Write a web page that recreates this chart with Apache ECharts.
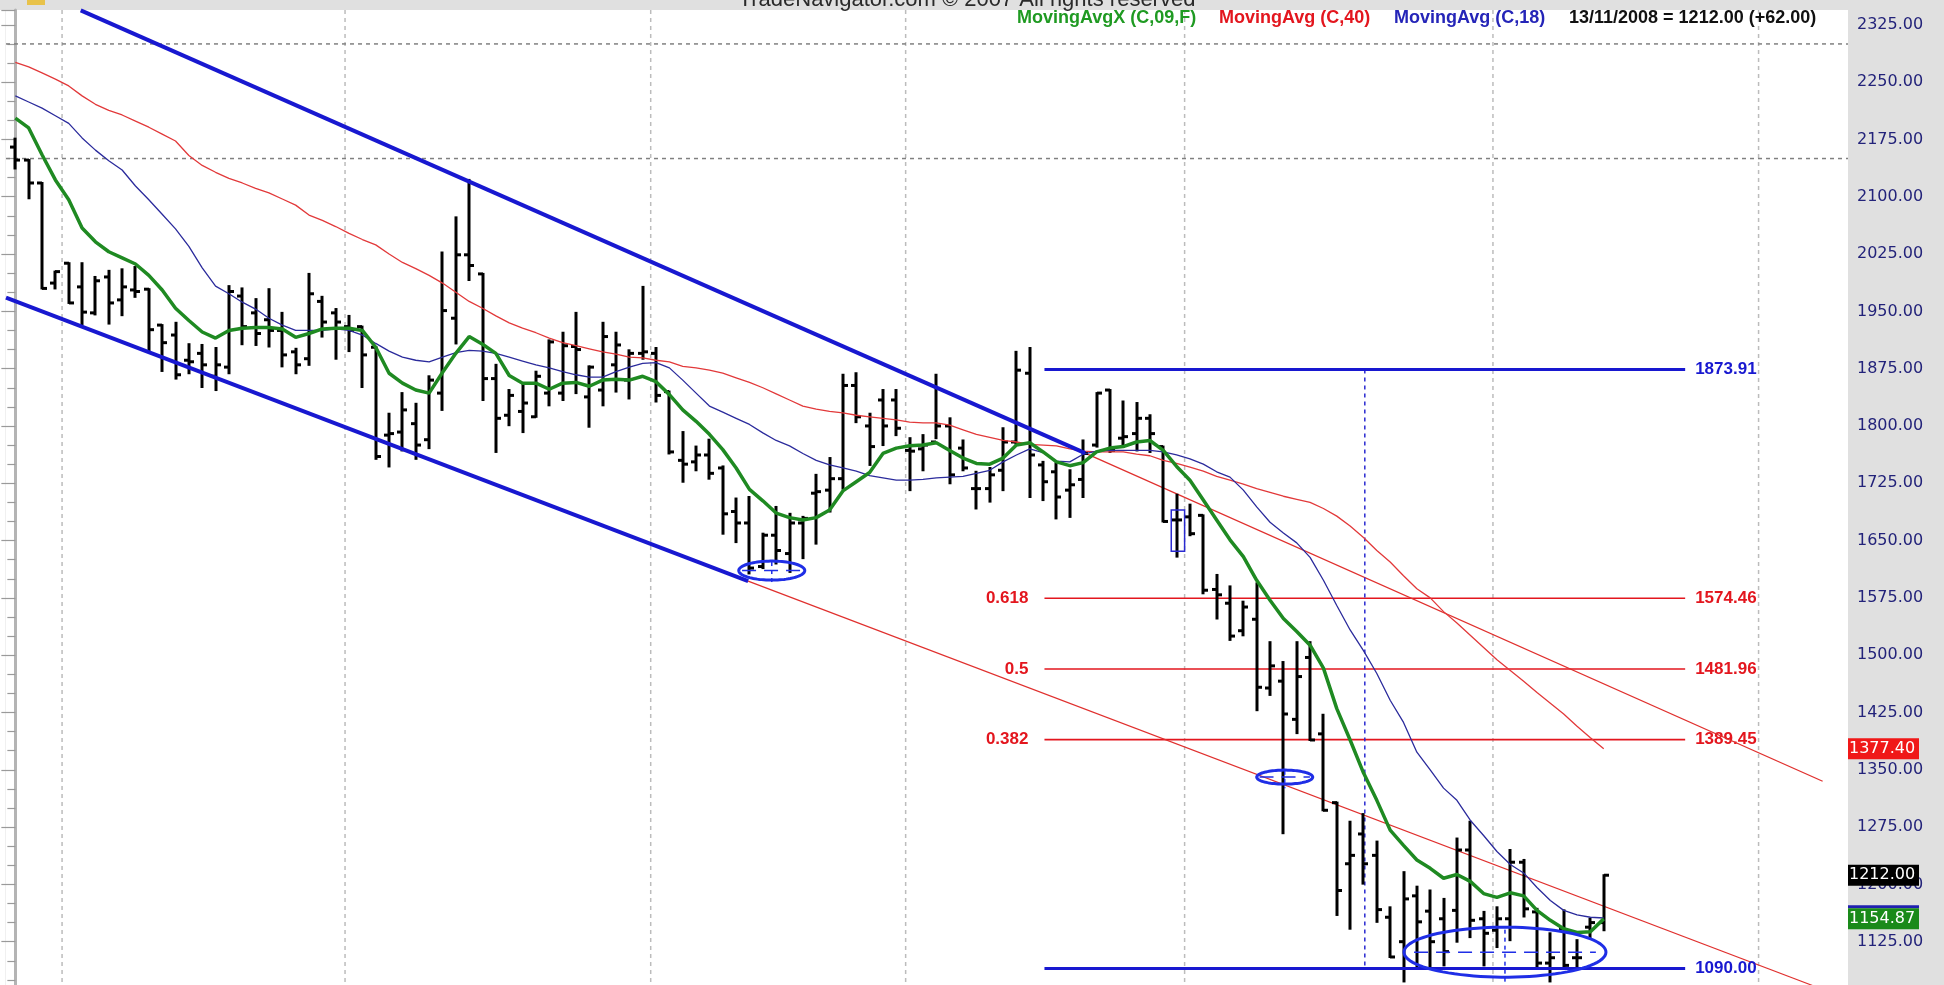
<!DOCTYPE html>
<html><head><meta charset="utf-8">
<script src="https://cdn.jsdelivr.net/npm/echarts@6/dist/echarts.min.js"></script>
<style>html,body{margin:0;padding:0;background:#fff;overflow:hidden}#chart{width:1944px;height:1000px}</style>
</head><body><div id="chart"></div>
<script>
// ---- Daily OHLC bars (index 0 = first bar on the left) ----
const opens = [2165,2148,2118,1987,2013,1982,1948,1995,1965,1978,
1979,1932,1919,1886,1895,1865,1877,1970,1948,1939,
1925,1897,1888,1963,1948,1930,1930,1903,1788,1792,
1803,1782,1843,1941,2024,1999,1862,1814,1819,1812,
1843,1843,1904,1838,1847,1880,1860,1895,1895,1845,
1755,1753,1762,1745,1688,1673,1616,1657,1633,1673,
1712,1716,1731,1853,1800,1834,1834,1768,1770,1779,
1800,1771,1718,1718,1742,1779,1869,1749,1740,1716,
1730,1775,1847,1784,1790,1810,1773,1677,1681,1683,
1586,1568,1532,1547,1457,1466,1416,1497,1397,1307,
1227,1266,1238,1157,1125,1185,1165,1155,1166,1245,
1155,1140,1155,1229,1164,1097,1142,1104,1144,1150];
const highs = [2176,2148,2118,2002,2013,2013,1995,2003,2005,2008,
1979,1932,1935,1907,1906,1902,1983,1980,1966,1979,
1948,1901,1999,1969,1953,1944,1930,1903,1816,1843,
1829,1865,2027,2073,2122,1999,1880,1847,1856,1871,
1912,1922,1948,1878,1935,1922,1899,1982,1902,1845,
1792,1773,1782,1747,1705,1707,1659,1694,1685,1681,
1736,1758,1867,1869,1816,1847,1847,1784,1788,1867,
1810,1781,1740,1745,1797,1897,1902,1753,1751,1742,
1781,1843,1847,1832,1830,1814,1773,1710,1697,1683,
1605,1590,1570,1594,1517,1491,1517,1517,1422,1307,
1282,1292,1256,1170,1216,1197,1192,1181,1260,1282,
1164,1170,1245,1232,1168,1136,1166,1127,1155,1212];
const lows = [2137,2098,1980,1980,1961,1933,1946,1934,1945,1969,
1899,1872,1862,1869,1851,1847,1869,1907,1906,1904,
1878,1869,1880,1917,1888,1898,1851,1757,1747,1768,
1757,1771,1821,1908,1991,1834,1766,1801,1792,1812,
1827,1834,1843,1799,1827,1845,1836,1888,1832,1764,
1727,1742,1731,1659,1648,1607,1614,1620,1609,1627,
1646,1688,1718,1805,1749,1775,1788,1716,1742,1784,
1725,1742,1692,1701,1716,1777,1707,1703,1679,1681,
1707,1773,1766,1775,1768,1766,1675,1629,1657,1581,
1548,1520,1526,1428,1448,1267,1398,1389,1297,1160,
1142,1201,1151,1105,1073,1092,1092,1094,1125,1131,
1094,1118,1127,1158,1092,1073,1092,1092,1131,1140];
const closes = [2148,2118,1980,2002,1961,1949,1990,1961,1982,1976,
1926,1909,1867,1884,1880,1880,1976,1930,1921,1925,
1893,1880,1973,1936,1936,1925,1893,1760,1790,1821,
1775,1860,1951,2024,2010,1862,1810,1840,1830,1865,
1910,1905,1900,1877,1917,1906,1895,1897,1840,1766,
1750,1762,1738,1685,1673,1614,1657,1637,1673,1679,
1714,1731,1853,1812,1773,1800,1797,1767,1775,1800,
1736,1745,1718,1736,1779,1873,1762,1727,1707,1723,
1764,1843,1768,1786,1810,1790,1675,1677,1659,1585,
1579,1525,1563,1458,1486,1423,1472,1389,1297,1192,
1238,1227,1167,1105,1181,1151,1125,1112,1245,1153,
1136,1155,1229,1168,1097,1104,1094,1104,1150,1212];

// ---- Moving averages, one value per bar ----
const ma9 = [2203,2190,2155,2122,2096,2059,2041,2028,2020,2012,
1997,1978,1954,1938,1923,1915,1925,1928,1929,1929,
1927,1916,1921,1927,1928,1928,1925,1903,1869,1856,
1847,1843,1870,1895,1917,1907,1895,1866,1856,1856,
1848,1856,1857,1852,1860,1861,1860,1865,1858,1841,
1821,1806,1789,1769,1745,1717,1702,1686,1680,1677,
1680,1690,1715,1727,1739,1764,1771,1774,1775,1778,
1768,1758,1751,1750,1758,1775,1778,1766,1753,1748,
1752,1766,1771,1773,1779,1781,1768,1747,1729,1703,
1677,1651,1629,1598,1572,1548,1531,1513,1483,1430,
1389,1346,1310,1271,1251,1232,1221,1208,1213,1204,
1188,1183,1189,1185,1166,1153,1142,1137,1138,1154.87];
const ma40 = [2276,2270,2262,2254,2245,2232,2221,2213,2207,2199,
2191,2182,2173,2154,2141,2132,2124,2118,2111,2105,
2097,2089,2076,2069,2061,2052,2044,2037,2025,2014,
2006,1997,1987,1975,1963,1954,1944,1935,1928,1922,
1915,1909,1905,1901,1897,1894,1890,1889,1886,1884,
1878,1876,1873,1869,1863,1857,1850,1842,1834,1826,
1822,1819,1817,1814,1812,1810,1808,1805,1804,1804,
1801,1795,1789,1785,1781,1779,1776,1775,1774,1770,
1767,1766,1766,1766,1763,1761,1755,1751,1746,1741,
1734,1729,1724,1718,1713,1708,1704,1700,1692,1682,
1669,1654,1637,1622,1604,1587,1575,1557,1542,1526,
1510,1494,1480,1466,1451,1437,1423,1407,1392,1377.40];
const ma18 = [2232,2224,2216,2206,2196,2177,2161,2147,2135,2114,
2096,2077,2058,2035,2007,1983,1973,1962,1953,1941,
1932,1925,1925,1925,1927,1925,1919,1908,1898,1890,
1886,1884,1890,1896,1899,1898,1895,1890,1885,1880,
1876,1871,1867,1864,1864,1871,1877,1882,1883,1876,
1860,1843,1826,1818,1810,1802,1791,1781,1774,1764,
1755,1749,1745,1741,1735,1732,1729,1729,1730,1732,
1733,1734,1738,1742,1753,1762,1770,1765,1754,1753,
1763,1767,1768,1768,1768,1768,1766,1762,1757,1750,
1740,1733,1716,1694,1674,1660,1647,1628,1598,1565,
1533,1506,1476,1441,1412,1373,1350,1326,1310,1284,
1264,1243,1226,1215,1196,1179,1166,1160,1157,1156];

// ---- Annotations (bar index, price) ----
const monthBreaks = [3.5, 24.7, 47.6, 66.7, 87.6, 110.7, 130.6];
const dottedLevels = [2300, 2150];
const fibLevels = [1574.46, 1481.96, 1389.45];
const fibRatios = ['0.618', '0.5', '0.382'];
const rangeLevels = [1873.91, 1090.00];
const levelSpan = [77.1, 125.1];
const dashedMarker = [[101.1, 1873.91], [101.1, 1090.00]];
const upperChannel = [[4.9, 2344], [80.15, 1764.5]];
const lowerChannel = [[-0.7, 1968], [54.9, 1597]];
const redTrendA = [[54.9, 1597], [137.3, 1050]];
const redTrendB = [[80.15, 1764.5], [135.4, 1335]];
const ellipseCenters = [[56.67, 1610.7], [95.1, 1340.4], [111.6, 1111.3]];
const boxMarker = [[86.6, 1690], [87.6, 1636]];
const lastDate = '13/11/2008';
const headerText = 'TradeNavigator.com \u00a9 2007 All rights reserved';

// pixel sizes of drawn ellipses (style)
const ellipseRadii = [[33, 9.5], [28, 7], [101, 25]];

const chart = echarts.init(document.getElementById('chart'));
const N = opens.length;
const ohlcData = opens.map((o, i) => [i, o, highs[i], lows[i], closes[i]]);
const toXY = arr => arr.map((v, i) => [i, v]);
const FIB_RED = '#e3161e', BLUE = '#1818d0';

function ohlcItem(params, api) {
  const i = api.value(0);
  const pO = api.coord([i, api.value(1)]);
  const pH = api.coord([i, api.value(2)]);
  const pL = api.coord([i, api.value(3)]);
  const pC = api.coord([i, api.value(4)]);
  const x = Math.round(pH[0]);
  const st = {stroke: '#000', lineWidth: 3};
  return {type: 'group', children: [
    {type: 'line', shape: {x1: x, y1: pH[1] - 1, x2: x, y2: pL[1] + 1}, style: st},
    {type: 'line', shape: {x1: x - 5, y1: pO[1], x2: x, y2: pO[1]}, style: st},
    {type: 'line', shape: {x1: x, y1: pC[1], x2: x + 5, y2: pC[1]}, style: st}
  ]};
}
function vGuide(params, api) {
  const x = api.coord([api.value(0), api.value(1)])[0];
  const cs = params.coordSys;
  return {type: 'line', shape: {x1: x, y1: cs.y, x2: x, y2: cs.y + cs.height},
    style: {stroke: '#bcbcbc', lineWidth: 1.5, lineDash: [4, 4]}};
}
function hGuide(params, api) {
  const y = api.coord([0, api.value(1)])[1];
  const cs = params.coordSys;
  return {type: 'line', shape: {x1: cs.x, y1: y, x2: cs.x + cs.width, y2: y},
    style: {stroke: '#808080', lineWidth: 1.5, lineDash: [4, 4]}};
}
function levelItem(kind) {
  return function (params, api) {
    const lvl = api.value(1);
    const p0 = api.coord([levelSpan[0], lvl]);
    const p1 = api.coord([levelSpan[1], lvl]);
    const color = kind === 'fib' ? FIB_RED : BLUE;
    const children = [
      {type: 'line', shape: {x1: p0[0], y1: p0[1], x2: p1[0], y2: p1[1]},
        style: {stroke: color, lineWidth: kind === 'fib' ? 1.6 : 3}},
      {type: 'text', x: p1[0] + 10, y: p1[1],
        style: {text: lvl.toFixed(2), fill: color, font: 'bold 17px "Liberation Sans", Arial, sans-serif',
          align: 'left', verticalAlign: 'middle', textAlign: 'left', textVerticalAlign: 'middle'}}
    ];
    if (kind === 'fib') {
      children.push({type: 'text', x: p0[0] - 16, y: p0[1],
        style: {text: fibRatios[params.dataIndex], fill: color, font: 'bold 17px "Liberation Sans", Arial, sans-serif',
          align: 'right', verticalAlign: 'middle', textAlign: 'right', textVerticalAlign: 'middle'}});
    }
    return {type: 'group', children};
  };
}
function ellipseItem(params, api) {
  const c = api.coord([api.value(0), api.value(1)]);
  const r = ellipseRadii[params.dataIndex];
  const pts = [];
  for (let k = 0; k < 90; k++) {
    const t = k / 90 * Math.PI * 2;
    pts.push([c[0] + r[0] * Math.cos(t), c[1] + r[1] * Math.sin(t)]);
  }
  return {type: 'group', children: [
    {type: 'polygon', shape: {points: pts}, style: {fill: 'transparent', stroke: '#1f2ee6', lineWidth: 3}},
    {type: 'line', shape: {x1: c[0] - r[0] * 0.9, y1: c[1], x2: c[0] + r[0] * 0.9, y2: c[1]},
      style: {stroke: '#1f2ee6', lineWidth: 1.5, lineDash: [14, 8]}},
    {type: 'line', shape: {x1: c[0], y1: c[1] - r[1] * 0.9, x2: c[0], y2: c[1] + r[1] * 1.6},
      style: {stroke: '#1f2ee6', lineWidth: 1.5, lineDash: [4, 4]}}
  ]};
}
function boxItem(params, api) {
  const a = api.coord(boxMarker[0]);
  const b = api.coord(boxMarker[1]);
  return {type: 'rect', shape: {x: a[0], y: a[1], width: b[0] - a[0], height: b[1] - a[1]},
    style: {fill: 'transparent', stroke: '#2a2ad0', lineWidth: 1.5}};
}
function lineSeries(data, color, width, z, extra) {
  return Object.assign({type: 'line', data, symbol: 'none', showSymbol: false, silent: true,
    lineStyle: {color, width}, z, animation: false}, extra || {});
}

const option = {
  animation: false,
  backgroundColor: '#e0e0e0',
  grid: {left: 6, top: 10, width: 1842, height: 989, show: true, backgroundColor: '#ffffff', borderWidth: 0},
  xAxis: {type: 'value', min: -0.7, max: 137.3, show: false},
  yAxis: {
    type: 'value', position: 'right', min: 1050, max: 2344.4, interval: 75,
    axisLine: {show: true, lineStyle: {color: '#b4b4b4', width: 3}},
    axisTick: {show: true, inside: true, length: 14, lineStyle: {color: '#9a9a9a', width: 1.2}},
    minorTick: {show: true, splitNumber: 3, length: 8, lineStyle: {color: '#9a9a9a', width: 1.2}},
    splitLine: {show: false},
    axisLabel: {
      margin: 9, color: '#23237a', fontFamily: '"DejaVu Sans", Verdana, sans-serif', fontSize: 16,
      formatter: v => {
        const k = v / 75;
        return (Math.abs(k - Math.round(k)) < 1e-6 && v >= 1100 && v <= 2330) ? v.toFixed(2) : '';
      }
    }
  },
  series: [
    {type: 'custom', renderItem: vGuide, data: monthBreaks.map(b => [b, 1500]), encode: {x: 0, y: 1}, z: 1, silent: true},
    {type: 'custom', renderItem: hGuide, data: dottedLevels.map(v => [0, v]), encode: {x: 0, y: 1}, z: 1, silent: true},
    {type: 'custom', renderItem: levelItem('fib'), data: fibLevels.map(v => [levelSpan[0], v]), encode: {x: 0, y: 1}, z: 2, silent: true},
    lineSeries(redTrendA, '#e0302e', 1.3, 2),
    lineSeries(redTrendB, '#e0302e', 1.3, 2),
    lineSeries(dashedMarker, '#2a2ad0', 1.5, 2, {lineStyle: {color: '#2a2ad0', width: 1.5, type: [4, 4]}}),
    {type: 'custom', renderItem: ohlcItem, data: ohlcData, encode: {x: 0, y: [1, 2, 3, 4]}, z: 3, silent: true},
    lineSeries(toXY(ma40), '#e2393a', 1.3, 4),
    lineSeries(toXY(ma18), '#2b2b9c', 1.3, 4),
    lineSeries(toXY(ma9), '#1f8a22', 3.5, 5),
    {type: 'custom', renderItem: levelItem('range'), data: rangeLevels.map(v => [levelSpan[0], v]), encode: {x: 0, y: 1}, z: 6, silent: true},
    lineSeries(upperChannel, BLUE, 4, 6),
    lineSeries(lowerChannel, BLUE, 4, 6),
    {type: 'custom', renderItem: ellipseItem, data: ellipseCenters, encode: {x: 0, y: 1}, z: 7, silent: true},
    {type: 'custom', renderItem: boxItem, data: [[boxMarker[0][0], boxMarker[0][1]]], encode: {x: 0, y: 1}, z: 7, silent: true}
  ]
};
chart.setOption(option);

// ---- header, legend and price tags ----
const last = N - 1;
const change = closes[last] - closes[last - 1];
const legendFont = 'bold 18px "Liberation Sans", Arial, sans-serif';
const tagFont = '16px "DejaVu Sans", Verdana, sans-serif';
const g = [
  {type: 'rect', shape: {x: 0, y: 10, width: 6, height: 990}, style: {fill: '#ffffff'}, z: -10},
  {type: 'line', shape: {x1: 6.5, y1: 10, x2: 6.5, y2: 1000}, style: {stroke: '#c4c4c4', lineWidth: 1.5}, z: -9},
  {type: 'rect', shape: {x: 27, y: -2, width: 18, height: 7}, style: {fill: '#e8c24a'}, z: 100},
  {type: 'text', x: 967, y: 0, z: 100, style: {text: headerText, fill: '#2a2a2a',
    font: '22px "Liberation Sans", Arial, sans-serif', align: 'center', verticalAlign: 'middle', textAlign: 'center', textVerticalAlign: 'middle'}},
  {type: 'text', x: 1017, y: 18, z: 100, style: {text: 'MovingAvgX (C,09,F)', fill: '#1f9a22', font: legendFont, verticalAlign: 'middle', textVerticalAlign: 'middle'}},
  {type: 'text', x: 1219, y: 18, z: 100, style: {text: 'MovingAvg (C,40)', fill: '#e3161e', font: legendFont, verticalAlign: 'middle', textVerticalAlign: 'middle'}},
  {type: 'text', x: 1394, y: 18, z: 100, style: {text: 'MovingAvg (C,18)', fill: '#2525b8', font: legendFont, verticalAlign: 'middle', textVerticalAlign: 'middle'}},
  {type: 'text', x: 1569, y: 18, z: 100, style: {text: lastDate + ' = ' + closes[last].toFixed(2) + ' (' + (change >= 0 ? '+' : '') + change.toFixed(2) + ')',
    fill: '#111', font: legendFont, verticalAlign: 'middle', textVerticalAlign: 'middle'}}
];
function tag(value, bg, topBar) {
  const y = chart.convertToPixel({yAxisIndex: 0}, value);
  const x0 = 1848, w = 71, h = 21;
  if (topBar) g.push({type: 'rect', shape: {x: x0, y: y - h / 2 - 3, width: w, height: 3}, style: {fill: topBar}, z: 110});
  g.push({type: 'rect', shape: {x: x0, y: y - h / 2, width: w, height: h}, style: {fill: bg}, z: 110});
  g.push({type: 'text', x: x0 + 1, y: y, z: 111, style: {text: value.toFixed(2), fill: '#ffffff', font: tagFont,
    verticalAlign: 'middle', textVerticalAlign: 'middle'}});
}
tag(ma40[last], '#f01818');
tag(closes[last], '#000000');
tag(ma9[last], '#1a8a1a', '#2020b0');
chart.setOption({graphic: g});
</script>
</body></html>
